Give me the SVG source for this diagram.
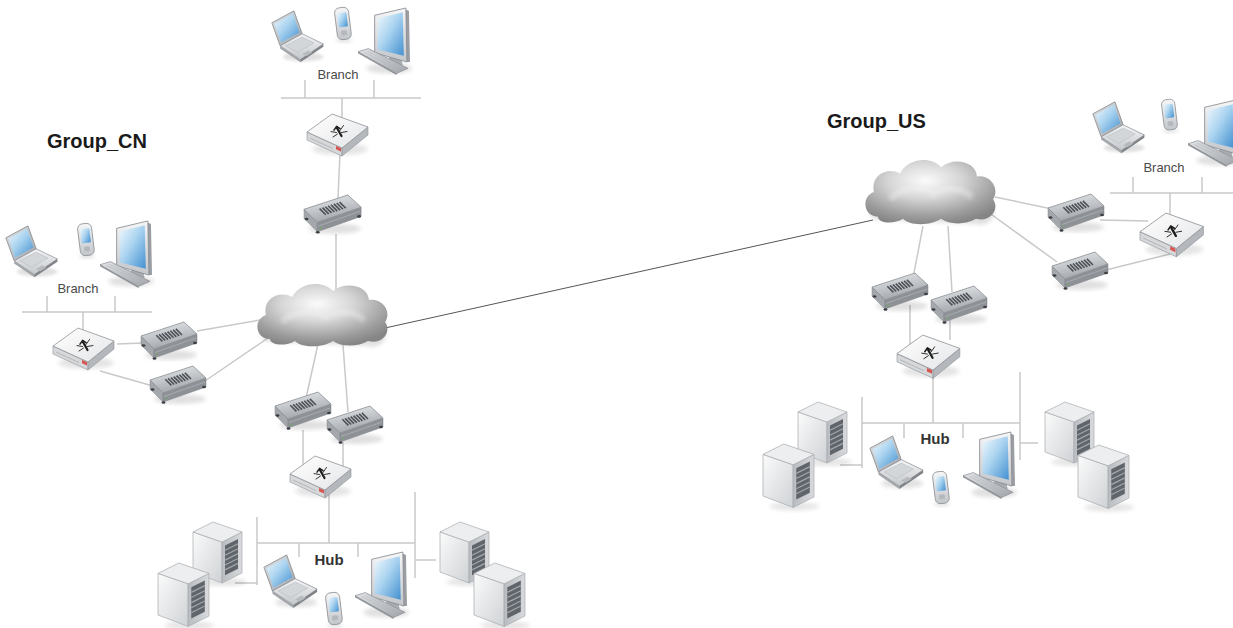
<svg xmlns="http://www.w3.org/2000/svg" xmlns:xlink="http://www.w3.org/1999/xlink" width="1233" height="628" viewBox="0 0 1233 628">
  <style>
    .wire { stroke: #c9c9c9; stroke-width: 1.5; fill: none; }
    .wan { stroke: #555; stroke-width: 1; fill: none; }
    .group { font-family: "Liberation Sans", Arial, sans-serif; font-weight: bold; font-size: 20px; fill: #1a1a1a; }
    .site { font-family: "Liberation Sans", Arial, sans-serif; font-size: 13px; fill: #4a4a4a; text-anchor: middle; }
    .hub { font-family: "Liberation Sans", Arial, sans-serif; font-weight: bold; font-size: 15px; fill: #333; text-anchor: middle; }
  </style>
  <defs>
    <linearGradient id="gScreen" x1="0" y1="0" x2="1" y2="1">
      <stop offset="0" stop-color="#f1f8fd"/>
      <stop offset="0.45" stop-color="#abd4f0"/>
      <stop offset="1" stop-color="#4390d0"/>
    </linearGradient>
    <linearGradient id="gSilver" x1="0" y1="0" x2="0" y2="1">
      <stop offset="0" stop-color="#f6f6f7"/>
      <stop offset="1" stop-color="#c3c6ca"/>
    </linearGradient>
    <linearGradient id="gSilverDark" x1="0" y1="0" x2="1" y2="1">
      <stop offset="0" stop-color="#e2e4e6"/>
      <stop offset="1" stop-color="#a0a4a9"/>
    </linearGradient>
    <linearGradient id="gRtTop" x1="0" y1="0" x2="1" y2="1">
      <stop offset="0" stop-color="#ffffff"/>
      <stop offset="1" stop-color="#e4e5e7"/>
    </linearGradient>
    <linearGradient id="gModemTop" x1="0" y1="0" x2="0.4" y2="1">
      <stop offset="0" stop-color="#eceef0"/>
      <stop offset="1" stop-color="#a2a6ab"/>
    </linearGradient>
    <linearGradient id="gSrvLeft" x1="0" y1="0" x2="1" y2="1">
      <stop offset="0" stop-color="#fbfbfb"/>
      <stop offset="1" stop-color="#cfd2d5"/>
    </linearGradient>
    <linearGradient id="gSrvRight" x1="0" y1="0" x2="1" y2="0">
      <stop offset="0" stop-color="#b9bcc0"/>
      <stop offset="1" stop-color="#d8dadd"/>
    </linearGradient>
    <radialGradient id="gCloud" cx="0.46" cy="0.32" r="0.7">
      <stop offset="0" stop-color="#fbfbfb"/>
      <stop offset="0.4" stop-color="#d6d6d6"/>
      <stop offset="0.8" stop-color="#9c9c9c"/>
      <stop offset="1" stop-color="#858585"/>
    </radialGradient>
    <filter id="fSoft" x="-20%" y="-20%" width="140%" height="140%">
      <feGaussianBlur stdDeviation="2"/>
    </filter>
    <filter id="fEdge" x="-5%" y="-5%" width="110%" height="110%">
      <feGaussianBlur stdDeviation="0.6"/>
    </filter>

    <!-- notebook computer -->
    <g id="laptop">
      <ellipse cx="36" cy="52" rx="22" ry="5" fill="#000" opacity="0.12" filter="url(#fSoft)"/>
      <polygon points="2,15 26,2 35,27 11,40" fill="url(#gSilverDark)" stroke="#7d8186" stroke-width="0.8" stroke-linejoin="round"/>
      <polygon points="5,16 25,5 32,25.5 12,36.5" fill="url(#gScreen)"/>
      <polygon points="11,40 35,27 58,38 33,55" fill="url(#gSilver)" stroke="#8d9196" stroke-width="0.8" stroke-linejoin="round"/>
      <polygon points="11,40 33,55 33,58 11,43" fill="#a3a7ac"/>
      <polygon points="33,55 58,38 58,41 33,58" fill="#7f8388"/>
      <polygon points="17,40 35,30.5 48,37 30,47" fill="#d3d6d9" stroke="#b0b4b8" stroke-width="0.5"/>
      <polygon points="35,49 41.5,45 46,47.3 39.5,51.3" fill="#b6babe"/>
    </g>

    <!-- handheld -->
    <g id="phone">
      <ellipse cx="11" cy="34" rx="8" ry="2.5" fill="#000" opacity="0.12" filter="url(#fSoft)"/>
      <g transform="rotate(-7 10 18)">
        <rect x="3" y="1.5" width="14" height="32" rx="5" fill="url(#gSilver)" stroke="#8a8e93" stroke-width="0.8"/>
        <rect x="5.3" y="6.5" width="9.4" height="14.5" rx="1.5" fill="url(#gScreen)"/>
        <rect x="7" y="24.5" width="6" height="5" rx="1.8" fill="#b5b9bd"/>
      </g>
    </g>

    <!-- desktop monitor with keyboard -->
    <g id="monitor">
      <ellipse cx="30" cy="58" rx="22" ry="5" fill="#000" opacity="0.12" filter="url(#fSoft)"/>
      <polygon points="30,44 41,46 43,55 30,55" fill="#a9adb2"/>
      <polygon points="45,1 49,3 50,52 47,52" fill="#9a9ea3"/>
      <polygon points="16,7 46,0 47,52 16,43" fill="url(#gSilver)" stroke="#868a8f" stroke-width="0.8" stroke-linejoin="round"/>
      <polygon points="19,10 43,4 44,46 19,40" fill="url(#gScreen)"/>
      <polygon points="0,42 10,39 48,58 37,63" fill="url(#gSilverDark)" stroke="#7f8388" stroke-width="0.6" stroke-linejoin="round"/>
      <polygon points="0,42 37,63 37,64.5 0,43.5" fill="#8d9196"/>
      <path d="M6 42.5 L38 58.5 M9 41.5 L41 57.5 M12 40.8 L44 56.6" stroke="#b3b7bb" stroke-width="0.6"/>
    </g>

    <!-- router / firewall box -->
    <g id="router">
      <ellipse cx="33" cy="36" rx="28" ry="6" fill="#000" opacity="0.1" filter="url(#fSoft)"/>
      <polygon points="0,19 35,35 35,43 0,27" fill="#d6d8da" stroke="#8e9297" stroke-width="0.6" stroke-linejoin="round"/>
      <polygon points="35,35 61,14 61,22 35,43" fill="#b4b8bc" stroke="#8e9297" stroke-width="0.6" stroke-linejoin="round"/>
      <polygon points="0,19 25,1 61,14 35,35" fill="url(#gRtTop)" stroke="#8e9297" stroke-width="0.8" stroke-linejoin="round"/>
      <polygon points="29,33 34,35.3 34,38.6 29,36.3" fill="#d9534f"/>
      <path d="M3 25 L26 35.6" stroke="#9ea2a6" stroke-width="0.6"/>
      <g stroke="#1e1e1e" fill="none" stroke-linecap="round" stroke-linejoin="round">
        <path d="M34.5 23 L30 15" stroke-width="2.2"/>
        <path d="M27 17.2 L29.6 13.4 L33 15.6" stroke-width="1.5"/>
        <path d="M29.5 19.5 L24 18.6 M30.5 21 L26 24 M33 17.5 L36.5 12.5 M34.5 19.5 L40 18.5" stroke-width="0.9"/>
      </g>
    </g>

    <!-- modem -->
    <g id="modem">
      <ellipse cx="30" cy="33" rx="26" ry="5" fill="#000" opacity="0.12" filter="url(#fSoft)"/>
      <polygon points="0,14 13,27 13,36 0,23" fill="#a4a8ad" stroke="#868a8f" stroke-width="0.5" stroke-linejoin="round"/>
      <polygon points="13,27 56,12 56,21 13,36" fill="#8e9297" stroke="#7e8287" stroke-width="0.5" stroke-linejoin="round"/>
      <polygon points="0,14 43,0 56,12 13,27" fill="url(#gModemTop)" stroke="#8a8e93" stroke-width="0.8" stroke-linejoin="round"/>
      <path d="M15.3 13.3 l6.1 6.1 m-3.3 -7.01 l6.1 6.1 m-3.3 -7.01 l6.1 6.1 m-3.3 -7.01 l6.1 6.1 m-3.3 -7.01 l6.1 6.1 m-3.3 -7.01 l6.1 6.1 m-3.3 -7.01 l6.1 6.1 m-3.3 -7.01 l6.1 6.1" stroke="#4d5258" stroke-width="1.6" fill="none"/>
      <path d="M14 30.5 L55 16" stroke="#b9bdc1" stroke-width="0.6"/>
      <ellipse cx="2.5" cy="23.5" rx="1.9" ry="1.3" fill="#3b3f44"/>
      <ellipse cx="13.5" cy="36.5" rx="1.9" ry="1.3" fill="#3b3f44"/>
      <ellipse cx="54" cy="21" rx="1.9" ry="1.3" fill="#3b3f44"/>
      <circle cx="16" cy="32.5" r="0.8" fill="#6ab04c"/>
    </g>

    <!-- tower server -->
    <g id="server">
      <ellipse cx="30" cy="60" rx="24" ry="4" fill="#000" opacity="0.1" filter="url(#fSoft)"/>
      <polygon points="0,10 29,20 29,61 0,50" fill="url(#gSrvLeft)" stroke="#a7abaf" stroke-width="0.7" stroke-linejoin="round"/>
      <polygon points="29,20 49,10 49,51 29,61" fill="url(#gSrvRight)" stroke="#a7abaf" stroke-width="0.7" stroke-linejoin="round"/>
      <polygon points="0,10 20,0 49,10 29,20" fill="#eceeef" stroke="#a7abaf" stroke-width="0.7" stroke-linejoin="round"/>
      <polygon points="32,23.4 45,16.9 45,46.8 32,53.3" fill="#60656b"/>
      <path d="M32 28.3 L45 21.8 M32 33.2 L45 26.7 M32 38.1 L45 31.6 M32 43 L45 36.5 M32 47.9 L45 41.4" stroke="#a2a7ac" stroke-width="1.2"/>
    </g>

    <!-- network cloud -->
    <g id="cloud">
      <path d="M18,60 C4,60 4,44 14,40 C10,26 26,18 38,24 C46,10 68,8 78,18 C90,8 112,12 113,26 C126,24 136,36 129,46 C137,54 128,68 113,64" fill="#000" opacity="0.12" filter="url(#fSoft)"/>
      <path d="M16,57 C1,57 -1,37 12,33 C8,17 25,8 38,15 C46,0 69,-2 79,9 C91,-1 114,3 115,18 C129,16 138,30 131,40 C138,49 129,63 114,59 C104,65 87,65 79,59 C69,66 47,66 41,59 C31,65 16,63 16,57 Z" fill="url(#gCloud)" filter="url(#fEdge)"/>
      <path d="M28,40 C40,28 60,27 72,35 C84,27 100,29 110,38" stroke="#f2f2f2" stroke-width="6" fill="none" opacity="0.45" filter="url(#fSoft)"/>
    </g>
  </defs>

  <rect width="1233" height="628" fill="#ffffff"/>

  <!-- links -->
  <g id="connectors">
    <!-- Group_CN branch (top) -->
    <path class="wire" d="M281 98 H421 M305 80 V98 M374 80 V98 M342 98 V118 M340 153 L338 198 M336 234 L336 292"/>
    <!-- Group_CN branch (left) -->
    <path class="wire" d="M22 312 H152 M47 296 V312 M115 296 V312 M83 312 V332 M117 344 L143 343 M197 331 L260 320 M100 371 L153 386 M205 381 L268 338"/>
    <!-- Group_CN hub -->
    <path class="wire" d="M318 344 L306 398 M343 345 L348 412 M303 430 L303 470 M343 442 L343 466 M329 492 V543 M257 543 H415 M257 517 V585 M415 492 V578 M299 543 V557 M358 543 V557 M235 583 H257 M415 560 H436"/>
    <!-- Group_US branch -->
    <path class="wire" d="M1110 193 H1233 M1133 177 V193 M1202 177 V193 M1170 193 V218 M995 197 L1052 209 M988 212 L1057 262 M1100 220 L1148 221 M1106 270 L1170 254"/>
    <!-- Group_US hub -->
    <path class="wire" d="M923 226 L913 278 M948 226 L952 292 M910 305 L910 347 M950 320 L950 340 M933 375 V423 M862 423 H1020 M862 397 V468 M1020 372 V460 M904 423 V438 M963 423 V438 M840 465 H862 M1020 443 H1038"/>
    <!-- WAN link between the two clouds -->
    <path class="wan" d="M385 328 L873 220"/>
  </g>

  <text class="group" x="47" y="148">Group_CN</text>
  <text class="group" x="827" y="128">Group_US</text>

  <!-- Group_CN -->
  <g id="cn-cloud"><use href="#cloud" transform="translate(254,282)"/></g>
  <g id="cn-branch-top">
    <use href="#laptop" transform="translate(270,9) scale(0.92)"/>
    <use href="#phone" transform="translate(333,6)"/>
    <use href="#monitor" transform="translate(358,8) scale(1.04)"/>
    <text class="site" x="338" y="79">Branch</text>
  </g>
  <g id="cn-branch-top-router"><use href="#router" transform="translate(307,113)"/></g>
  <g id="cn-branch-top-modem"><use href="#modem" transform="translate(304,195) scale(1.02)"/></g>

  <g id="cn-branch-left">
    <use href="#laptop" transform="translate(4,224) scale(0.92)"/>
    <use href="#phone" transform="translate(76,222)"/>
    <use href="#monitor" transform="translate(100,221) scale(1.04)"/>
    <text class="site" x="78" y="293">Branch</text>
  </g>
  <g id="cn-branch-left-router"><use href="#router" transform="translate(53,327)"/></g>
  <g id="cn-branch-left-modem-1"><use href="#modem" transform="translate(141,322)"/></g>
  <g id="cn-branch-left-modem-2"><use href="#modem" transform="translate(150,366)"/></g>

  <g id="cn-hub-modem-1"><use href="#modem" transform="translate(275,392)"/></g>
  <g id="cn-hub-modem-2"><use href="#modem" transform="translate(327,406)"/></g>
  <g id="cn-hub-router"><use href="#router" transform="translate(290,455)"/></g>
  <g id="cn-hub">
    <use href="#server" transform="translate(193,522)"/>
    <use href="#server" transform="translate(158,563) scale(1.04)"/>
    <use href="#server" transform="translate(440,522)"/>
    <use href="#server" transform="translate(474,563) scale(1.04)"/>
    <use href="#laptop" transform="translate(262,553) scale(0.95)"/>
    <use href="#phone" transform="translate(324,591)"/>
    <use href="#monitor" transform="translate(355,552) scale(1.04)"/>
    <text class="hub" x="329" y="565">Hub</text>
  </g>

  <!-- Group_US -->
  <g id="us-cloud"><use href="#cloud" transform="translate(862,158) scale(1,1.03)"/></g>
  <g id="us-branch">
    <use href="#laptop" transform="translate(1091,100) scale(0.92)"/>
    <use href="#phone" transform="translate(1160,98) scale(0.95)"/>
    <use href="#monitor" transform="translate(1188,100) scale(1.04)"/>
    <text class="site" x="1164" y="172">Branch</text>
  </g>
  <g id="us-branch-router"><use href="#router" transform="translate(1140,212) scale(1.04)"/></g>
  <g id="us-branch-modem-1"><use href="#modem" transform="translate(1048,194)"/></g>
  <g id="us-branch-modem-2"><use href="#modem" transform="translate(1052,252)"/></g>

  <g id="us-hub-modem-1"><use href="#modem" transform="translate(872,273)"/></g>
  <g id="us-hub-modem-2"><use href="#modem" transform="translate(931,286)"/></g>
  <g id="us-hub-router"><use href="#router" transform="translate(897,334) scale(1.03)"/></g>
  <g id="us-hub">
    <use href="#server" transform="translate(798,402)"/>
    <use href="#server" transform="translate(763,444) scale(1.04)"/>
    <use href="#server" transform="translate(1045,402)"/>
    <use href="#server" transform="translate(1078,445) scale(1.04)"/>
    <use href="#laptop" transform="translate(868,434) scale(0.95)"/>
    <use href="#phone" transform="translate(931,470)"/>
    <use href="#monitor" transform="translate(963,432) scale(1.04)"/>
    <text class="hub" x="935" y="444">Hub</text>
  </g>
</svg>
